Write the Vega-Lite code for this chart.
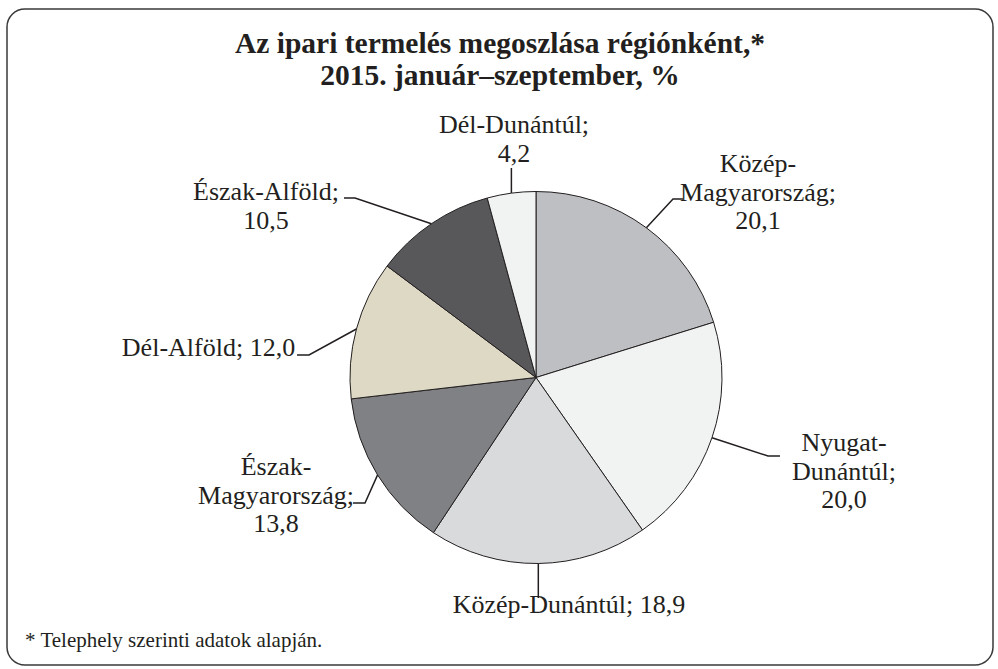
{
  "$schema": "https://vega.github.io/schema/vega-lite/v6.json",
  "width": 986,
  "height": 656,
  "autosize": {"type": "none"},
  "padding": {"left": 7, "top": 9, "right": 5, "bottom": 4},
  "background": "white",
  "config": {
    "view": {"stroke": "#3a3a3a", "strokeWidth": 1.5, "cornerRadius": 18}
  },
  "title": {
    "text": ["Az ipari termelés megoszlása régiónként,*", "2015. január–szeptember, %"],
    "font": "'Liberation Serif', 'DejaVu Serif', serif",
    "fontSize": 29.5,
    "fontWeight": "bold",
    "color": "#231f20",
    "anchor": "middle",
    "lineHeight": 32,
    "baseline": "alphabetic",
    "offset": 0,
    "dy": 105
  },
  "datasets": {
    "pie": [
      {"region": "Közép-Magyarország", "value": 20.1, "idx": 1},
      {"region": "Nyugat-Dunántúl", "value": 20.0, "idx": 2},
      {"region": "Közép-Dunántúl", "value": 18.9, "idx": 3},
      {"region": "Észak-Magyarország", "value": 13.8, "idx": 4},
      {"region": "Dél-Alföld", "value": 12.0, "idx": 5},
      {"region": "Észak-Alföld", "value": 10.5, "idx": 6},
      {"region": "Dél-Dunántúl", "value": 4.2, "idx": 7}
    ],
    "labels": [
      {"region": "Közép-Magyarország", "label": "Közép-\nMagyarország;\n20,1", "lx": 119.35, "ly": 110.48},
      {"region": "Nyugat-Dunántúl", "label": "Nyugat-\nDunántúl;\n20,0", "lx": 165.59, "ly": -39.52},
      {"region": "Közép-Dunántúl", "label": "Közép-Dunántúl; 18,9", "lx": 17.74, "ly": -126.61},
      {"region": "Észak-Magyarország", "label": "Észak-\nMagyarország;\n13,8", "lx": -139.78, "ly": -52.42},
      {"region": "Dél-Alföld", "label": "Dél-Alföld; 12,0", "lx": -176.08, "ly": 11.56},
      {"region": "Észak-Alföld", "label": "Észak-Alföld;\n10,5", "lx": -145.16, "ly": 95.43},
      {"region": "Dél-Dunántúl", "label": "Dél-Dunántúl;\n4,2", "lx": -11.83, "ly": 131.45}
    ],
    "leaders": [
      {"region": "Közép-Magyarország", "k": 1, "px": 59.35, "py": 80.48},
      {"region": "Közép-Magyarország", "k": 2, "px": 73.66, "py": 95.97},
      {"region": "Közép-Magyarország", "k": 3, "px": 79.03, "py": 95.97},
      {"region": "Nyugat-Dunántúl", "k": 1, "px": 94.62, "py": -32.37},
      {"region": "Nyugat-Dunántúl", "k": 2, "px": 124.73, "py": -42.2},
      {"region": "Nyugat-Dunántúl", "k": 3, "px": 131.18, "py": -42.2},
      {"region": "Közép-Dunántúl", "k": 1, "px": 1.24, "py": -100},
      {"region": "Közép-Dunántúl", "k": 2, "px": 1.24, "py": -118.55},
      {"region": "Észak-Magyarország", "k": 1, "px": -85.16, "py": -52.37},
      {"region": "Észak-Magyarország", "k": 2, "px": -91.94, "py": -67.47},
      {"region": "Észak-Magyarország", "k": 3, "px": -98.39, "py": -67.47},
      {"region": "Dél-Alföld", "k": 1, "px": -96.56, "py": 26.08},
      {"region": "Dél-Alföld", "k": 2, "px": -122.04, "py": 12.1},
      {"region": "Dél-Alföld", "k": 3, "px": -128.49, "py": 12.1},
      {"region": "Észak-Alföld", "k": 1, "px": -56.24, "py": 82.69},
      {"region": "Észak-Alföld", "k": 2, "px": -97.31, "py": 96.51},
      {"region": "Észak-Alföld", "k": 3, "px": -103.23, "py": 96.51},
      {"region": "Dél-Dunántúl", "k": 1, "px": -13.23, "py": 99.19},
      {"region": "Dél-Dunántúl", "k": 2, "px": -13.23, "py": 112.63}
    ],
    "notes": [
      {"note": "* Telephely szerinti adatok alapján.", "nx": -274.73, "ny": -144.89}
    ]
  },
  "layer": [
    {
      "data": {"name": "pie"},
      "mark": {"type": "arc", "outerRadius": 186, "stroke": "#231f20", "strokeWidth": 1},
      "encoding": {
        "theta": {"field": "value", "type": "quantitative", "stack": true},
        "order": {"field": "idx", "type": "quantitative"},
        "color": {
          "field": "region",
          "type": "nominal",
          "legend": null,
          "scale": {
            "domain": ["Közép-Magyarország", "Nyugat-Dunántúl", "Közép-Dunántúl", "Észak-Magyarország", "Dél-Alföld", "Észak-Alföld", "Dél-Dunántúl"],
            "range": ["#bebfc2", "#f1f2f2", "#d9dadb", "#808184", "#ddd9c4", "#58585a", "#f1f2f2"]
          }
        },
        "x": {"datum": 0, "type": "quantitative", "scale": {"domain": [-284.41, 245.7], "nice": false, "zero": false}, "axis": null},
        "y": {"datum": 0, "type": "quantitative", "scale": {"domain": [-154.57, 198.12], "nice": false, "zero": false}, "axis": null}
      }
    },
    {
      "data": {"name": "leaders"},
      "mark": {"type": "line", "stroke": "#231f20", "strokeWidth": 1.5},
      "encoding": {
        "x": {"field": "px", "type": "quantitative", "axis": null},
        "y": {"field": "py", "type": "quantitative", "axis": null},
        "detail": {"field": "region"},
        "order": {"field": "k", "type": "quantitative"}
      }
    },
    {
      "data": {"name": "labels"},
      "mark": {"type": "text", "font": "'Liberation Serif', 'DejaVu Serif', serif", "color": "#231f20", "fontSize": 26, "align": "center", "baseline": "alphabetic", "lineBreak": "\n", "lineHeight": 28.5},
      "encoding": {
        "x": {"field": "lx", "type": "quantitative", "axis": null},
        "y": {"field": "ly", "type": "quantitative", "axis": null},
        "text": {"field": "label"}
      }
    },
    {
      "data": {"name": "notes"},
      "mark": {"type": "text", "font": "'Liberation Serif', 'DejaVu Serif', serif", "color": "#231f20", "fontSize": 21, "align": "left", "baseline": "alphabetic"},
      "encoding": {
        "x": {"field": "nx", "type": "quantitative", "axis": null},
        "y": {"field": "ny", "type": "quantitative", "axis": null},
        "text": {"field": "note"}
      }
    }
  ]
}
